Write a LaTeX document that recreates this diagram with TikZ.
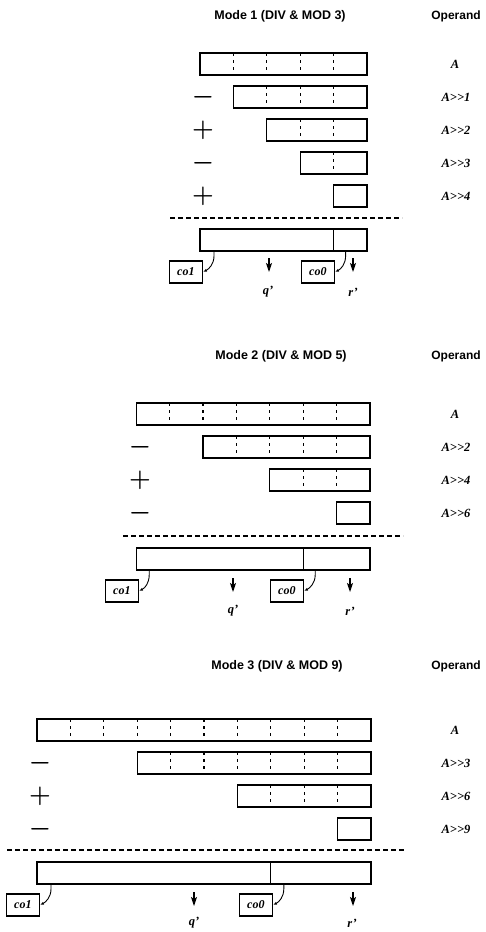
\documentclass[tikz,border=0pt]{standalone}
\usepackage{fontspec}
\setsansfont{Liberation Sans}
\newfontfamily\lblfont{Liberation Serif}
\usetikzlibrary{arrows.meta}
\tikzset{
  rowbox/.style={draw, line width=1.3pt, minimum height=22pt, inner sep=0pt, outer sep=0pt},
  divline/.style={line width=1.1pt, dash pattern=on 3pt off 4pt},
  ttl/.style={font=\sffamily\bfseries\fontsize{12.5}{13}\selectfont, inner sep=0pt},
  optitle/.style={font=\sffamily\bfseries\fontsize{12}{13}\selectfont, inner sep=0pt},
  oplabel/.style={font=\lblfont\bfseries\itshape\fontsize{12.5}{13}\selectfont, inner sep=0pt},
  sign/.style={font=\fontsize{25}{25}\selectfont\boldmath, inner sep=0pt},
  sepline/.style={line width=1.1pt, dash pattern=on 5pt off 3pt},
  cobox/.style={draw, line width=1.3pt, minimum width=33pt, minimum height=22pt, inner sep=0pt, anchor=east, font=\lblfont\bfseries\itshape\fontsize{12}{13}\selectfont},
  wire/.style={line width=0.9pt, -{Latex[open,length=4pt,width=3pt]}},
  outarrow/.style={line width=1.2pt, -{Stealth[length=9pt,width=6pt,inset=2pt]}},
}
\newcommand{\cellrow}[4]{%
  \node[rowbox, minimum width={#4*33.4pt}, anchor=north east] (#1) at (#2,#3) {};
  \pgfmathtruncatemacro{\lastk}{#4-1}%
  \ifnum#4>1
    \foreach \k in {1,...,\lastk}{\draw[divline] ([xshift={\k*33.4pt}]#1.north west) -- ([xshift={\k*33.4pt}]#1.south west);}
  \fi}
\newcommand{\shr}[1]{A>\kern0pt>#1}
\begin{document}
\begin{tikzpicture}[x=1pt,y=-1pt]
\useasboundingbox (0,0) rectangle (485,932);
% ================= Mode 1
\node[ttl] (t1) at (280,16) {Mode 1 (DIV \& MOD 3)};
\node[optitle] (o1) at (456,16) {Operand};
\cellrow{m1a}{367}{53}{5}
\cellrow{m1b}{367}{86}{4}
\cellrow{m1c}{367}{119}{3}
\cellrow{m1d}{367}{152}{2}
\cellrow{m1e}{367}{185}{1}
\node[sign] (s1b) at (203,97) {$-$};
\node[sign] (s1c) at (203,130) {$+$};
\node[sign] (s1d) at (203,163) {$-$};
\node[sign] (s1e) at (203,196) {$+$};
\node[oplabel] (l1a) at (455,64) {A};
\node[oplabel] (l1b) at (456,97) {\shr{1}};
\node[oplabel] (l1c) at (456,130) {\shr{2}};
\node[oplabel] (l1d) at (456,163) {\shr{3}};
\node[oplabel] (l1e) at (456,196) {\shr{4}};
\coordinate (d1l) at (170,218); \coordinate (d1r) at (402,218);
\draw[sepline] (d1l) -- (d1r);
\node[rowbox, minimum width={4*33.4pt}, anchor=north west] (m1q) at (200,229) {};
\node[rowbox, minimum width={33.4pt}, anchor=north east] (m1r) at (367,229) {};
\node[cobox] (m1co1) at (203,272) {co1};
\node[cobox] (m1co0) at (335,272) {co0};
\draw[wire] ([xshift=14pt]m1q.south west) -- ++(0,5) .. controls +(0,8) and +(6,-3) .. (m1co1.east);
\draw[wire] ([xshift=12pt]m1r.south west) -- ++(0,5) .. controls +(0,8) and +(6,-3) .. (m1co0.east);
\coordinate (m1qs) at (269,258); \coordinate (m1qe) at (269,272);
\coordinate (m1rs) at (353,258); \coordinate (m1re) at (353,272);
\draw[outarrow] (m1qs) -- (m1qe);
\draw[outarrow] (m1rs) -- (m1re);
\node[oplabel] (m1ql) at (268,292) {q’};
\node[oplabel] (m1rl) at (353,292) {r’};
% ================= Mode 2
\node[ttl] (t2) at (281,356) {Mode 2 (DIV \& MOD 5)};
\node[optitle] (o2) at (456,356) {Operand};
\cellrow{m2a}{370}{403}{7}
\cellrow{m2b}{370}{436}{5}
\cellrow{m2c}{370}{469}{3}
\cellrow{m2d}{370}{502}{1}
\node[sign] (s2b) at (140,447) {$-$};
\node[sign] (s2c) at (140,480) {$+$};
\node[sign] (s2d) at (140,513) {$-$};
\node[oplabel] (l2a) at (455,414) {A};
\node[oplabel] (l2b) at (456,447) {\shr{2}};
\node[oplabel] (l2c) at (456,480) {\shr{4}};
\node[oplabel] (l2d) at (456,513) {\shr{6}};
\coordinate (d2l) at (123,536); \coordinate (d2r) at (403,536);
\draw[sepline] (d2l) -- (d2r);
\node[rowbox, minimum width={5*33.4pt}, anchor=north west] (m2q) at (136.2,548) {};
\node[rowbox, minimum width={2*33.4pt}, anchor=north east] (m2r) at (370,548) {};
\node[cobox] (m2co1) at (139,591) {co1};
\node[cobox] (m2co0) at (304,591) {co0};
\draw[wire] ([xshift=13pt]m2q.south west) -- ++(0,5) .. controls +(0,8) and +(6,-3) .. (m2co1.east);
\draw[wire] ([xshift=12pt]m2r.south west) -- ++(0,5) .. controls +(0,8) and +(6,-3) .. (m2co0.east);
\coordinate (m2qs) at (233,578); \coordinate (m2qe) at (233,592);
\coordinate (m2rs) at (350,578); \coordinate (m2re) at (350,592);
\draw[outarrow] (m2qs) -- (m2qe);
\draw[outarrow] (m2rs) -- (m2re);
\node[oplabel] (m2ql) at (233,611) {q’};
\node[oplabel] (m2rl) at (350,611) {r’};
% ================= Mode 3
\node[ttl] (t3) at (277,666) {Mode 3 (DIV \& MOD 9)};
\node[optitle] (o3) at (456,666) {Operand};
\cellrow{m3a}{371}{719}{10}
\cellrow{m3b}{371}{752}{7}
\cellrow{m3c}{371}{785}{4}
\cellrow{m3d}{371}{818}{1}
\node[sign] (s3b) at (40,763) {$-$};
\node[sign] (s3c) at (40,796) {$+$};
\node[sign] (s3d) at (40,829) {$-$};
\node[oplabel] (l3a) at (455,730) {A};
\node[oplabel] (l3b) at (456,763) {\shr{3}};
\node[oplabel] (l3c) at (456,796) {\shr{6}};
\node[oplabel] (l3d) at (456,829) {\shr{9}};
\coordinate (d3l) at (7,850); \coordinate (d3r) at (405,850);
\draw[sepline] (d3l) -- (d3r);
\node[rowbox, minimum width={7*33.4pt}, anchor=north west] (m3q) at (37,862) {};
\node[rowbox, minimum width={3*33.4pt}, anchor=north east] (m3r) at (371,862) {};
\node[cobox] (m3co1) at (40,905) {co1};
\node[cobox] (m3co0) at (273,905) {co0};
\draw[wire] ([xshift=14pt]m3q.south west) -- ++(0,5) .. controls +(0,8) and +(6,-3) .. (m3co1.east);
\draw[wire] ([xshift=13pt]m3r.south west) -- ++(0,5) .. controls +(0,8) and +(6,-3) .. (m3co0.east);
\coordinate (m3qs) at (194,892); \coordinate (m3qe) at (194,906);
\coordinate (m3rs) at (353,892); \coordinate (m3re) at (353,906);
\draw[outarrow] (m3qs) -- (m3qe);
\draw[outarrow] (m3rs) -- (m3re);
\node[oplabel] (m3ql) at (194,923) {q’};
\node[oplabel] (m3rl) at (352,923) {r’};
\end{tikzpicture}
\end{document}
